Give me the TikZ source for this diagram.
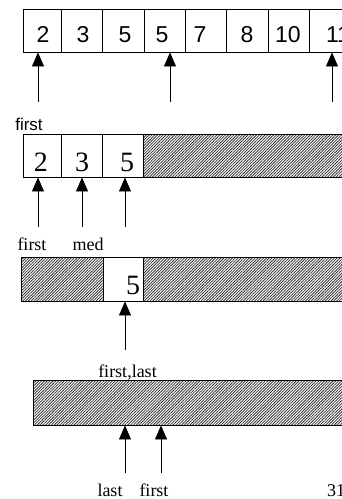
\documentclass[tikz,border=0pt]{standalone}
\usepackage{fontspec}
\setmainfont{Liberation Serif}
\newfontfamily\arialfont{Liberation Sans}
\usetikzlibrary{arrows.meta,patterns.meta}
\tikzset{
  cell/.style={draw, line width=0.9pt, inner sep=0pt, fill=white},
  hatch/.style={draw, line width=0.9pt, inner sep=0pt,
    pattern={Lines[angle=45,distance=2pt,line width=0.8pt]}, pattern color=black!80},
  ptr/.style={line width=0.8pt, -{Triangle[width=12pt,length=14pt]}},
  sdig/.style={font=\arialfont\fontsize{23}{26}\selectfont, anchor=base, inner sep=0pt},
  rdig/.style={font=\fontsize{28}{32}\selectfont, anchor=base, inner sep=0pt},
  lbl/.style={font=\fontsize{18}{20}\selectfont, anchor=base, inner sep=0pt},
  slbl/.style={font=\arialfont\fontsize{17}{19}\selectfont, anchor=base, inner sep=0pt},
}
\begin{document}
\begin{tikzpicture}[x=1pt, y=-1pt]
\useasboundingbox (0,0) rectangle (342,499);
\clip (0,0) rectangle (342,499);

% --- full sorted array ---
\foreach \n/\cx/\w in {1/42/38, 2/81.5/41, 3/123/42, 4/164.5/41,
                       5/205.5/41, 6/247/42, 7/288.5/41, 8/329.5/41}
  \node[cell, minimum width=\w pt, minimum height=43pt] (a\n) at (\cx,30.5) {};
\foreach \n/\cx/\v in {1/43/2, 2/83/3, 3/125/5, 4/162/5, 5/200/7, 6/247/8, 7/288/10, 8/338/11}
  \node[sdig] (ad\n) at (\cx,42) {\v};

\coordinate (ta1) at (38,102);
\coordinate (ta2) at (170,102);
\coordinate (ta3) at (332,102);
\draw[ptr] (ta1) -- (ta1 |- a1.south);
\draw[ptr] (ta2) -- (ta2 |- a4.south);
\draw[ptr] (ta3) -- (ta3 |- a8.south);
\node[slbl] (lf1) at (29,130) {first};

% --- second step ---
\node[cell, minimum width=38pt, minimum height=43pt] (b1) at (42,155.5) {};
\node[cell, minimum width=41pt, minimum height=43pt] (b2) at (81.5,155.5) {};
\node[cell, minimum width=41pt, minimum height=43pt] (b3) at (122.5,155.5) {};
\node[hatch, minimum width=207pt, minimum height=43pt] (b4) at (246.5,155.5) {};
\node[rdig] (bd1) at (41,171) {2};
\node[rdig] (bd2) at (82,171) {3};
\node[rdig] (bd3) at (127,171) {5};

\coordinate (tb1) at (38,227);
\coordinate (tb2) at (82,227);
\coordinate (tb3) at (125,227);
\draw[ptr] (tb1) -- (tb1 |- b1.south);
\draw[ptr] (tb2) -- (tb2 |- b2.south);
\draw[ptr] (tb3) -- (tb3 |- b3.south);
\node[lbl] (lb1) at (32,250) {first};
\node[lbl] (lb2) at (88,250) {med};

% --- third step ---
\node[hatch, minimum width=82pt, minimum height=44pt] (c1) at (62,279) {};
\node[cell, minimum width=40pt, minimum height=44pt] (c2) at (123,279) {};
\node[hatch, minimum width=207pt, minimum height=44pt] (c3) at (246.5,279) {};
\node[rdig] (cd2) at (133,294) {5};

\coordinate (tc1) at (125,350);
\draw[ptr] (tc1) -- (tc1 |- c2.south);
\node[lbl] (lc1) at (127.5,377) {first,last};

% --- final step ---
\node[hatch, minimum width=317pt, minimum height=45pt] (d1) at (191.5,402.5) {};
\coordinate (td1) at (125,473);
\coordinate (td2) at (161,473);
\draw[ptr] (td1) -- (td1 |- d1.south);
\draw[ptr] (td2) -- (td2 |- d1.south);
\node[lbl] (ld1) at (110,496) {last};
\node[lbl] (ld2) at (154,496) {first};
\node[lbl, anchor=base west] (ld3) at (327,496) {31};
\end{tikzpicture}
\end{document}
